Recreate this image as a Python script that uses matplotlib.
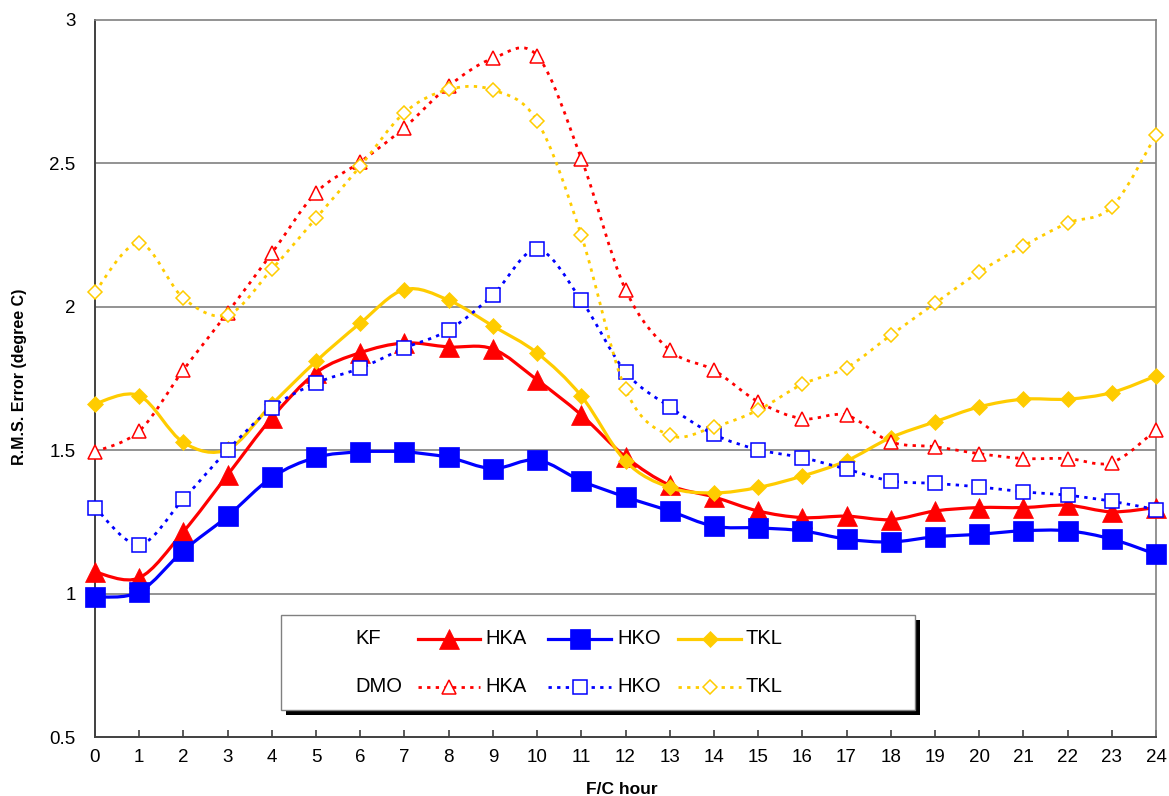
import matplotlib
matplotlib.use("Agg")
import matplotlib.pyplot as plt
from matplotlib.path import Path
from matplotlib.patches import PathPatch, Rectangle
from matplotlib.lines import Line2D

plt.rcParams['font.family'] = ['Liberation Sans', 'DejaVu Sans']

# ---------------- data ----------------
hours = list(range(25))
kf_hka = [1.075, 1.055, 1.216, 1.414, 1.613, 1.77, 1.84, 1.874, 1.86, 1.853, 1.745, 1.623,
          1.477, 1.378, 1.337, 1.288, 1.265, 1.27, 1.258, 1.288, 1.30, 1.30, 1.308, 1.285, 1.30]
kf_hko = [0.988, 1.006, 1.150, 1.27, 1.405, 1.475, 1.494, 1.494, 1.475, 1.436, 1.466, 1.393,
          1.337, 1.288, 1.235, 1.229, 1.219, 1.19, 1.18, 1.198, 1.207, 1.219, 1.219, 1.19, 1.137]
kf_tkl = [1.662, 1.69, 1.527, 1.503, 1.66, 1.81, 1.943, 2.06, 2.023, 1.933, 1.839, 1.689,
          1.462, 1.37, 1.351, 1.37, 1.41, 1.463, 1.544, 1.599, 1.651, 1.678, 1.678, 1.701, 1.759]
dmo_hka = [1.495, 1.567, 1.78, 1.98, 2.187, 2.398, 2.505, 2.625, 2.77, 2.866, 2.876, 2.517,
           2.06, 1.849, 1.779, 1.669, 1.61, 1.622, 1.529, 1.512, 1.488, 1.471, 1.471, 1.457, 1.57]
dmo_hko = [1.30, 1.171, 1.33, 1.50, 1.648, 1.734, 1.786, 1.856, 1.919, 2.041, 2.20, 2.023,
           1.773, 1.651, 1.555, 1.502, 1.474, 1.434, 1.393, 1.384, 1.372, 1.355, 1.343, 1.322, 1.293]
dmo_tkl = [2.052, 2.222, 2.03, 1.972, 2.131, 2.309, 2.49, 2.677, 2.758, 2.756, 2.648, 2.249,
           1.712, 1.552, 1.581, 1.64, 1.73, 1.788, 1.901, 2.012, 2.121, 2.212, 2.292, 2.348, 2.599]

y_ticks = [0.5, 1, 1.5, 2, 2.5, 3]
y_tick_labels = ["0.5", "1", "1.5", "2", "2.5", "3"]
station_names = ["HKA", "HKO", "TKL"]
group_names = ["KF", "DMO"]

RED, BLUE, GOLD = "#FF0000", "#0000FF", "#FFCC00"

W, H = 1169, 796
AX_L, AX_R, AX_T, AX_B = 95, 1156, 20, 737
fig = plt.figure(figsize=(W / 100, H / 100), dpi=100)
ax = fig.add_axes([AX_L / W, 1 - AX_B / H, (AX_R - AX_L) / W, (AX_B - AX_T) / H])


def smooth_path(x, y):
    """Excel-like smoothed line (Catmull-Rom as cubic Bezier)."""
    n = len(x)
    verts = [(x[0], y[0])]
    codes = [Path.MOVETO]
    for i in range(n - 1):
        a = i - 1 if i > 0 else i
        d = i + 2 if i + 2 < n else i + 1
        c1 = (x[i] + (x[i + 1] - x[a]) / 6.0, y[i] + (y[i + 1] - y[a]) / 6.0)
        c2 = (x[i + 1] - (x[d] - x[i]) / 6.0, y[i + 1] - (y[d] - y[i]) / 6.0)
        verts += [c1, c2, (x[i + 1], y[i + 1])]
        codes += [Path.CURVE4] * 3
    return Path(verts, codes)


KF_LW = 2.3
DMO_LW = 2.0
DASH = (0, (1.2, 1.9))

kf_style = {
    "HKA": dict(color=RED, marker="^", ms=14),
    "HKO": dict(color=BLUE, marker="s", ms=14),
    "TKL": dict(color=GOLD, marker="D", ms=8.5),
}
dmo_style = {
    "HKA": dict(color=RED, marker="^", ms=10),
    "HKO": dict(color=BLUE, marker="s", ms=10),
    "TKL": dict(color=GOLD, marker="D", ms=7.5),
}

z = 3
for name, vals in zip(station_names, [kf_hka, kf_hko, kf_tkl]):
    st = kf_style[name]
    ax.add_patch(PathPatch(smooth_path(hours, vals), fill=False, edgecolor=st["color"],
                           lw=KF_LW, zorder=z, clip_on=False, capstyle="round", joinstyle="round"))
    ax.plot(hours, vals, linestyle="none", marker=st["marker"], ms=st["ms"],
            mfc=st["color"], mec=st["color"], mew=0.5, zorder=z + 0.5, clip_on=False)
    z += 1
for name, vals in zip(station_names, [dmo_hka, dmo_hko, dmo_tkl]):
    st = dmo_style[name]
    ax.add_patch(PathPatch(smooth_path(hours, vals), fill=False, edgecolor=st["color"],
                           lw=DMO_LW, linestyle=DASH, zorder=z, clip_on=False, capstyle="butt"))
    ax.plot(hours, vals, linestyle="none", marker=st["marker"], ms=st["ms"],
            mfc="white", mec=st["color"], mew=1.1, zorder=z + 0.5, clip_on=False)
    z += 1

ax.set_xlim(0, 24)
ax.set_ylim(0.5, 3)
ax.set_xticks(hours)
ax.set_xticklabels([str(h) for h in hours])
ax.set_yticks(y_ticks)
ax.set_yticklabels(y_tick_labels)
ax.tick_params(axis="x", direction="in", length=5, width=1.2, color="#404040",
               labelsize=13.5, pad=9)
ax.tick_params(axis="y", length=0, labelsize=13.5, pad=14)
for yv in y_ticks[1:-1]:
    ax.axhline(yv, color="#808080", lw=1.2, zorder=1)
for s in ["top", "right"]:
    ax.spines[s].set_color("#808080")
    ax.spines[s].set_linewidth(1.2)
for s in ["left", "bottom"]:
    ax.spines[s].set_color("#404040")
    ax.spines[s].set_linewidth(1.4)

fig.text(20 / W, 1 - 377 / H, "R.M.S. Error (degree C)", rotation=90, ha="center", va="center",
         fontsize=11.5, fontweight="bold")
fig.text(622 / W, 1 - 794 / H, "F/C hour", ha="center", va="baseline",
         fontsize=12.5, fontweight="bold")


# ---------------- legend (drawn manually) ----------------
def fx(px):
    return px / W


def fy(py):
    return 1 - py / H


tf = fig.transFigure
bx0, by0, bx1, by1 = 281, 615, 915, 710
fig.add_artist(Rectangle((fx(bx0 + 5), fy(by1 + 5)), fx(bx1 - bx0), (by1 - by0) / H,
                         transform=tf, facecolor="black", edgecolor="none", zorder=20))
fig.add_artist(Rectangle((fx(bx0), fy(by1)), fx(bx1 - bx0), (by1 - by0) / H,
                         transform=tf, facecolor="white", edgecolor="#808080", lw=1.0, zorder=21))

rows_y = [639, 687]
seg_x = [(418, 480), (548, 611), (678, 741)]
text_x = [485, 617, 746]
for r, (grp, styles) in enumerate(zip(group_names, [kf_style, dmo_style])):
    yy = fy(rows_y[r])
    fig.text(fx(355), yy, grp, ha="left", va="center", fontsize=14.5, zorder=22)
    for k, name in enumerate(station_names):
        st = styles[name]
        x0, x1 = seg_x[k]
        xm = (x0 + x1) / 2
        if r == 0:
            ln = Line2D([fx(x0), fx(xm), fx(x1)], [yy, yy, yy], transform=tf, color=st["color"],
                        lw=KF_LW, marker=st["marker"], ms=st["ms"], mfc=st["color"],
                        mec=st["color"], mew=0.5, markevery=[1], zorder=22)
        else:
            ln = Line2D([fx(x0), fx(xm), fx(x1)], [yy, yy, yy], transform=tf, color=st["color"],
                        lw=DMO_LW, linestyle=DASH, marker=st["marker"], ms=st["ms"], mfc="white",
                        mec=st["color"], mew=1.1, markevery=[1], zorder=22,
                        dash_capstyle="butt")
        fig.add_artist(ln)
        fig.text(fx(text_x[k]), yy, name, ha="left", va="center", fontsize=14.5, zorder=22)

fig.savefig("out.png", dpi=100)
